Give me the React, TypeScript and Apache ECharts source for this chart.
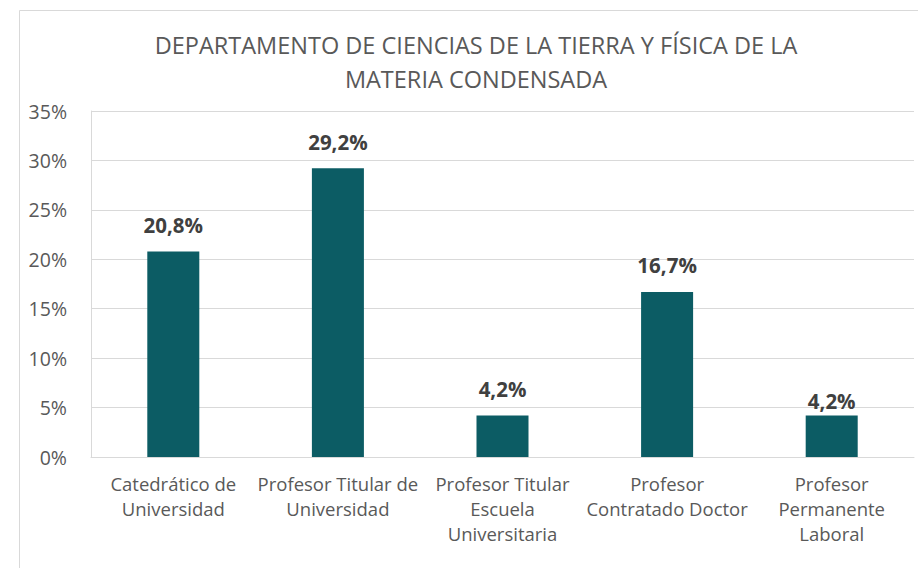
import React, { useEffect, useRef } from "react";
import * as echarts from "echarts";

const titleText = "DEPARTAMENTO DE CIENCIAS DE LA TIERRA Y FÍSICA DE LA\nMATERIA CONDENSADA";
const categories = [
  "Catedrático de\nUniversidad",
  "Profesor Titular de\nUniversidad",
  "Profesor Titular\nEscuela\nUniversitaria",
  "Profesor\nContratado Doctor",
  "Profesor\nPermanente\nLaboral",
];
const values = [20.8, 29.2, 4.2, 16.7, 4.2];
const yTicks = [0, 5, 10, 15, 20, 25, 30, 35];

const FONT = "'Open Sans', 'Noto Sans', sans-serif";

export default function App() {
  const ref = useRef<HTMLDivElement>(null);
  useEffect(() => {
    if (!ref.current) return;
    const chart = echarts.init(ref.current, null, { renderer: "svg" });
    const seriesData = values.map((v, i) =>
      i === values.length - 1 ? { value: v, label: { distance: 4 } } : { value: v }
    );
    chart.setOption({
      animation: false,
      backgroundColor: "#ffffff",
      graphic: [
        {
          type: "rect",
          shape: { x: 19.5, y: 10.5, width: 910, height: 570 },
          style: { fill: "none", stroke: "#d9d9d9", lineWidth: 1 },
          silent: true,
        },
      ],
      title: {
        text: titleText,
        left: 471,
        textAlign: "center",
        top: 23,
        textStyle: {
          fontFamily: FONT,
          fontSize: 23.5,
          fontWeight: "normal",
          color: "#595959",
          lineHeight: 34,
        },
      },
      grid: { left: 91, right: 4, top: 111, bottom: 111, containLabel: false },
      xAxis: {
        type: "category",
        data: categories,
        axisLine: { show: true, lineStyle: { color: "#d9d9d9", width: 1 } },
        axisTick: { show: false },
        axisLabel: {
          interval: 0,
          fontFamily: FONT,
          fontSize: 18.5,
          color: "#595959",
          lineHeight: 25,
          margin: 14,
        },
      },
      yAxis: {
        type: "value",
        min: 0,
        max: 35,
        interval: 5,
        axisLine: { show: true, lineStyle: { color: "#d9d9d9", width: 1 } },
        axisTick: { show: false },
        splitLine: { lineStyle: { color: "#d9d9d9", width: 1 } },
        axisLabel: {
          fontFamily: FONT,
          fontSize: 19.5,
          color: "#595959",
          margin: 24,
          formatter: (v: number) => (yTicks.includes(v) ? `${v}%` : ""),
        },
      },
      series: [
        {
          type: "bar",
          data: seriesData,
          barWidth: "31.6%",
          itemStyle: { color: "#0c5c64" },
          label: {
            show: true,
            position: "top",
            distance: 16,
            fontFamily: FONT,
            fontSize: 20.5,
            fontWeight: "bold",
            color: "#404040",
            formatter: (p: any) => `${String(Number(p.value).toFixed(1)).replace(".", ",")}%`,
          },
        },
      ],
    });
    return () => chart.dispose();
  }, []);
  return (
    <div
      ref={ref}
      style={{ position: "fixed", left: 0, top: 0, width: 918, height: 568 }}
    />
  );
}
